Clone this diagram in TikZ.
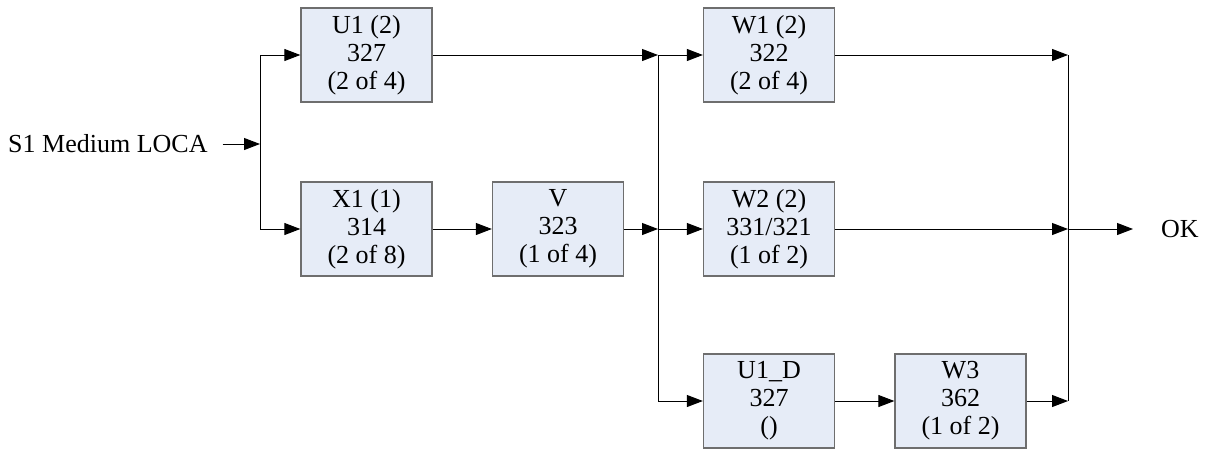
\documentclass[tikz,border=0pt]{standalone}
\usepackage{fontspec}
\setmainfont{Liberation Serif}
\usetikzlibrary{arrows.meta}
\definecolor{boxfill}{HTML}{E6ECF7}
\definecolor{boxline}{HTML}{6E6E6E}
\begin{document}
\begin{tikzpicture}[x=1pt,y=-1pt,
  blk/.style={draw=boxline, line width=1.3pt, fill=boxfill,
    minimum width=131pt, minimum height=94pt, inner sep=0pt,
    align=center, font=\fontsize{26}{28}\selectfont},
  lbl/.style={inner sep=0pt, font=\fontsize{26}{28}\selectfont},
  wire/.style={line width=1pt, draw=black},
  conn/.style={wire, -{Triangle[length=16pt,width=12pt]}}]
\useasboundingbox (0,0) rectangle (1206,448);

% blocks
\node[blk] (U1) at (366.5,55)  {U1 (2)\\327\\(2 of 4)};
\node[blk] (X1) at (366.5,229) {X1 (1)\\314\\(2 of 8)};
\node[blk] (V)  at (558,229)   {V\\323\\(1 of 4)};
\node[blk] (W1) at (769,55)    {W1 (2)\\322\\(2 of 4)};
\node[blk] (W2) at (769,229)   {W2 (2)\\331/321\\(1 of 2)};
\node[blk] (UD) at (769,401)   {U1\_D\\327\\()};
\node[blk] (W3) at (960.5,401) {W3\\362\\(1 of 2)};

% end labels
\node[lbl, anchor=west] (src) at (8,144) {S1 Medium LOCA};
\node[lbl, anchor=west] (ok)  at (1161,229) {OK};

% junction columns
\coordinate (sp) at (260,144);
\coordinate (j1) at (658,0);
\coordinate (j2) at (1068,0);

% input split
\draw[conn, shorten <=15pt] (src.east) -- (sp);
\draw[wire] (U1.west -| sp) -- (X1.west -| sp);
\draw[conn] (U1.west -| sp) -- (U1.west);
\draw[conn] (X1.west -| sp) -- (X1.west);

% first stage
\draw[conn] (X1) -- (V);
\draw[conn] (U1.east) -- (U1.east -| j1);
\draw[conn] (V.east) -- (V.east -| j1);

% second split
\draw[wire] (W1.west -| j1) -- (UD.west -| j1);
\draw[conn] (W1.west -| j1) -- (W1.west);
\draw[conn] (W2.west -| j1) -- (W2.west);
\draw[conn] (UD.west -| j1) -- (UD.west);
\draw[conn] (UD) -- (W3);

% merge
\draw[conn] (W1.east) -- (W1.east -| j2);
\draw[conn] (W2.east) -- (W2.east -| j2);
\draw[conn] (W3.east) -- (W3.east -| j2);
\draw[wire] (W1.east -| j2) -- (W3.east -| j2);
\draw[conn, shorten >=28pt] (W2.east -| j2) -- (ok.west);
\end{tikzpicture}
\end{document}
